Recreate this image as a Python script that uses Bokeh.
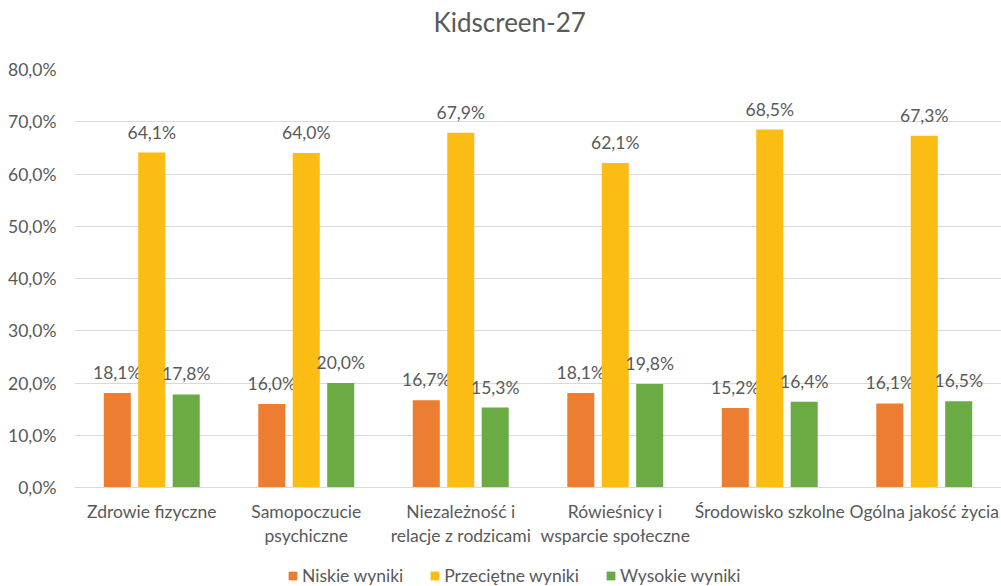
from bokeh.plotting import figure
from bokeh.models import (ColumnDataSource, FactorRange, Range1d, CustomJSTickFormatter,
                          Legend, LegendItem, FixedTicker)
from bokeh.transform import dodge
from bokeh.core.properties import value
from bokeh.embed import file_html
from bokeh.resources import INLINE

categories = ["Zdrowie fizyczne", "Samopoczucie\npsychiczne", "Niezależność i\nrelacje z rodzicami",
              "Rówieśnicy i\nwsparcie społeczne", "Środowisko szkolne", "Ogólna jakość życia"]
niskie = [0.181, 0.160, 0.167, 0.181, 0.152, 0.161]
przecietne = [0.641, 0.640, 0.679, 0.621, 0.685, 0.673]
wysokie = [0.178, 0.200, 0.153, 0.198, 0.164, 0.165]
series_names = ["Niskie wyniki", "Przeciętne wyniki", "Wysokie wyniki"]
y_ticks = [0.0, 0.1, 0.2, 0.3, 0.4, 0.5, 0.6, 0.7, 0.8]

colors = ["#ED7D31", "#FBBC14", "#6AAB44"]
FONT = "Lato"
TXT = "#595959"
FS = "17.5px"

# layout: value axis spans 418 px (0..80%), a further 99 px below 0 holds labels + legend
AXIS_PX = 418
BELOW_PX = 99
y_min = -0.8 * BELOW_PX / AXIS_PX

def fmt(v):
    return ("%.1f" % (v * 100)).replace(".", ",") + "%"

src = ColumnDataSource(dict(
    cat=categories,
    niskie=niskie, przecietne=przecietne, wysokie=wysokie,
    niskie_l=[fmt(v) for v in niskie],
    przecietne_l=[fmt(v) for v in przecietne],
    wysokie_l=[fmt(v) for v in wysokie],
))

p = figure(x_range=FactorRange(*categories, range_padding=0), y_range=Range1d(y_min, 0.8),
           frame_width=927, frame_height=AXIS_PX + BELOW_PX,
           min_border_left=74, min_border_right=0, min_border_top=69, min_border_bottom=0,
           output_backend="svg", toolbar_location=None)

p.title.text = "Kidscreen-27\n"
p.title.align = "left"
p.title.vertical_align = "bottom"
p.title.text_font = FONT
p.title.text_font_size = "26px"
p.title.text_font_style = "normal"
p.title.text_color = TXT
p.title.offset = 359
p.title.standoff = 0

offsets = [-0.223, 0.0, 0.223]
fields = ["niskie", "przecietne", "wysokie"]
items = []
for f, off, c, name in zip(fields, offsets, colors, series_names):
    r = p.vbar(x=dodge("cat", off, range=p.x_range), top=f, bottom=0, width=0.175, source=src,
               fill_color=c, line_color=None)
    items.append(LegendItem(label=name, renderers=[r]))
    p.text(x=dodge("cat", off, range=p.x_range), y=f, text=f + "_l", source=src,
           text_align="center", text_baseline="bottom", y_offset=-10,
           text_font=value(FONT), text_font_size=FS, text_color=TXT)

p.yaxis.ticker = FixedTicker(ticks=y_ticks)
p.yaxis.formatter = CustomJSTickFormatter(code="return (tick*100).toFixed(1).replace('.', ',') + '%';")
p.yaxis.axis_line_color = None
p.yaxis.major_tick_line_color = None
p.yaxis.minor_tick_line_color = None
p.yaxis.major_label_text_font = FONT
p.yaxis.major_label_text_font_size = FS
p.yaxis.major_label_text_color = TXT
p.yaxis.major_label_standoff = 12

p.xaxis.fixed_location = 0
p.xaxis.axis_line_color = "#D9D9D9"
p.xaxis.major_tick_line_color = None
p.xaxis.minor_tick_line_color = None
p.xaxis.major_tick_out = 0
p.xaxis.major_label_text_font = FONT
p.xaxis.major_label_text_font_size = FS
p.xaxis.major_label_text_color = TXT
p.xaxis.major_label_text_line_height = 1.15
p.xaxis.major_label_standoff = 13

p.xgrid.grid_line_color = None
p.ygrid.grid_line_color = "#D9D9D9"
p.ygrid.ticker = FixedTicker(ticks=y_ticks)
p.outline_line_color = None

legend = Legend(items=items, orientation="horizontal", location=(213, 0),
                glyph_width=11, glyph_height=11, label_standoff=4, spacing=26,
                label_text_font=FONT, label_text_font_size=FS, label_text_color=TXT,
                label_height=18,
                border_line_color=None, background_fill_alpha=0, padding=0, margin=0)
p.add_layout(legend)

open("out.html", "w").write(file_html(p, INLINE))
